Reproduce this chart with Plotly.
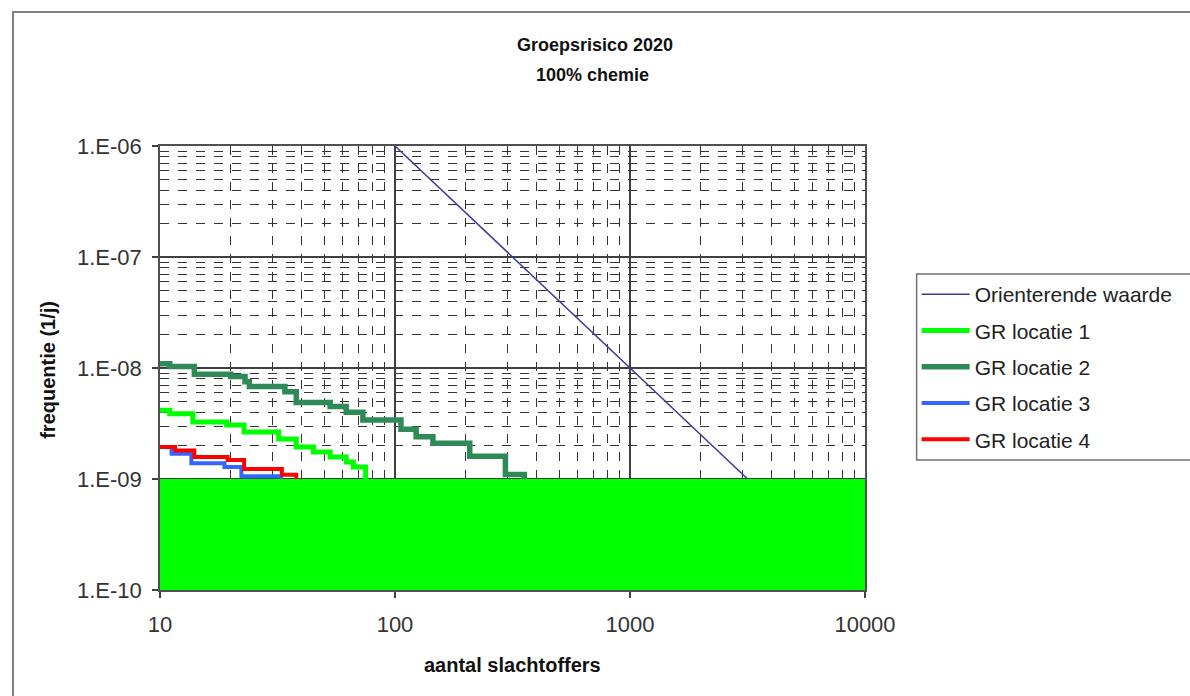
import plotly.graph_objects as go

# FN-curves (aantal slachtoffers N, frequentie F) per locatie, stepped
loc1_n = [10, 11, 13.8, 19.2, 22.8, 32, 38, 45, 53, 62, 66.5, 75]
loc1_f = [4.16e-9, 3.87e-9, 3.27e-9, 3.06e-9, 2.65e-9, 2.29e-9, 1.94e-9, 1.75e-9,
          1.58e-9, 1.42e-9, 1.28e-9, 1.0e-9]

loc2_n = [10, 11, 14, 20, 23, 24, 34, 38, 53, 62, 73, 106, 123, 145, 208, 295, 355]
loc2_f = [1.09e-8, 1.03e-8, 8.8e-9, 8.4e-9, 7.5e-9, 6.8e-9, 6.1e-9, 4.9e-9, 4.5e-9,
          4.0e-9, 3.4e-9, 2.8e-9, 2.4e-9, 2.1e-9, 1.6e-9, 1.1e-9, 1.0e-9]

loc3_n = [10, 11.2, 13.6, 18.8, 22.2, 32.8]
loc3_f = [1.94e-9, 1.69e-9, 1.39e-9, 1.28e-9, 1.06e-9, 1.0e-9]

loc4_n = [10, 11.6, 14, 19.4, 22.8, 33, 38]
loc4_f = [1.94e-9, 1.81e-9, 1.58e-9, 1.48e-9, 1.23e-9, 1.09e-9, 1.0e-9]

# Orienterende waarde: 1E-6 at N=100, slope -2
orient_n = [100, 10000]
orient_f = [1e-6, 1e-10]

# Band below 1E-9
band_n = [10, 10000, 10000, 10]
band_f = [1e-10, 1e-10, 1e-9, 1e-9]

x_tickvals = [10, 100, 1000, 10000]
x_ticktext = ["10", "100", "1000", "10000"]
y_tickvals = [1e-10, 1e-9, 1e-8, 1e-7, 1e-6]
y_ticktext = ["1.E-10", "1.E-09", "1.E-08", "1.E-07", "1.E-06"]

x_minor = [m * 10 ** d for d in range(1, 4) for m in range(2, 10)]
y_minor = [m * 10.0 ** d for d in range(-10, -6) for m in range(2, 10)]

FONT = "Arial, Liberation Sans, sans-serif"

# plot area in pixels, used to place paper-referenced items
PL, PR, PT, PB = 160, 870, 146, 590


def px_x(px):
    return (px - PL) / (PR - PL)


def px_y(py):
    return (PB - py) / (PB - PT)


fig = go.Figure()

fig.add_trace(go.Scatter(
    x=orient_n, y=orient_f, mode="lines", name="Orienterende waarde",
    line=dict(color="#3B3B9C", width=1.5), legendgroup="a"))
fig.add_trace(go.Scatter(
    x=loc1_n, y=loc1_f, mode="lines", name="GR locatie 1", line_shape="hv",
    line=dict(color="#00FF00", width=5), legendgroup="b"))
fig.add_trace(go.Scatter(
    x=loc2_n, y=loc2_f, mode="lines", name="GR locatie 2", line_shape="hv",
    line=dict(color="#2E8B57", width=5.5), legendgroup="c"))
fig.add_trace(go.Scatter(
    x=loc3_n, y=loc3_f, mode="lines", name="GR locatie 3", line_shape="hv",
    line=dict(color="#3366FF", width=4), legendgroup="d"))
fig.add_trace(go.Scatter(
    x=loc4_n, y=loc4_f, mode="lines", name="GR locatie 4", line_shape="hv",
    line=dict(color="#FF0000", width=4), legendgroup="e"))
fig.add_trace(go.Scatter(
    x=band_n, y=band_f, mode="lines", fill="toself", fillcolor="#00FF00",
    line=dict(color="#00FF00", width=0), showlegend=False, hoverinfo="skip"))

axis_common = dict(
    type="log",
    showline=True, linecolor="#505050", linewidth=1.5, mirror=True,
    showgrid=True, gridcolor="#404040", gridwidth=1.5,
    zeroline=False,
    ticks="outside", ticklen=6, tickcolor="#404040", tickwidth=1.5,
    tickfont=dict(family=FONT, size=22, color="#333333"),
)

fig.update_layout(
    width=1190, height=696,
    paper_bgcolor="white", plot_bgcolor="white",
    margin=dict(l=PL, r=1190 - PR, t=PT, b=696 - PB),
    title=dict(
        text="<b>Groepsrisico 2020</b>",
        x=0.5, xref="container", xanchor="center",
        y=1 - 45 / 696, yref="container", yanchor="middle",
        font=dict(family=FONT, size=18, color="#111111"),
    ),
    xaxis=dict(
        axis_common, range=[1, 4],
        tickmode="array", tickvals=x_tickvals, ticktext=x_ticktext,
        ticklabelstandoff=8,
        minor=dict(tickmode="array", tickvals=x_minor, showgrid=True,
                   griddash="dash", gridcolor="#333333", gridwidth=1, ticks=""),
    ),
    yaxis=dict(
        axis_common, range=[-10, -6],
        tickmode="array", tickvals=y_tickvals, ticktext=y_ticktext,
        ticklabelstandoff=6,
        minor=dict(tickmode="array", tickvals=y_minor, showgrid=True,
                   griddash="dash", gridcolor="#333333", gridwidth=1, ticks=""),
    ),
    legend=dict(
        x=px_x(922), y=px_y(274),
        xanchor="left", yanchor="top",
        borderwidth=0, bgcolor="rgba(0,0,0,0)",
        font=dict(family=FONT, size=21, color="#222222"),
        itemwidth=48, traceorder="grouped", tracegroupgap=6,
    ),
    annotations=[
        dict(text="<b>100% chemie</b>", xref="paper", yref="paper",
             x=px_x(596), y=px_y(75), xanchor="center", yanchor="middle",
             showarrow=False, font=dict(family=FONT, size=18, color="#111111")),
        dict(text="<b>aantal slachtoffers</b>", xref="paper", yref="paper",
             x=px_x(515), y=px_y(665), xanchor="center", yanchor="middle",
             showarrow=False, font=dict(family=FONT, size=20, color="#111111")),
        dict(text="<b>frequentie (1/j)</b>", xref="paper", yref="paper",
             x=px_x(47), y=px_y(370), xanchor="center", yanchor="middle",
             textangle=-90, showarrow=False,
             font=dict(family=FONT, size=20, color="#111111")),
    ],
    shapes=[
        # chart border
        dict(type="rect", xref="paper", yref="paper", layer="below",
             x0=px_x(12), x1=px_x(1210), y0=px_y(720), y1=px_y(12),
             line=dict(color="#808080", width=2), fillcolor="rgba(0,0,0,0)"),
        # legend box
        dict(type="rect", xref="paper", yref="paper", layer="below",
             x0=px_x(922), x1=px_x(1210), y0=px_y(460), y1=px_y(274),
             line=dict(color="#707070", width=1.5), fillcolor="white"),
    ],
    showlegend=True,
)

fig.write_html("out.html")
